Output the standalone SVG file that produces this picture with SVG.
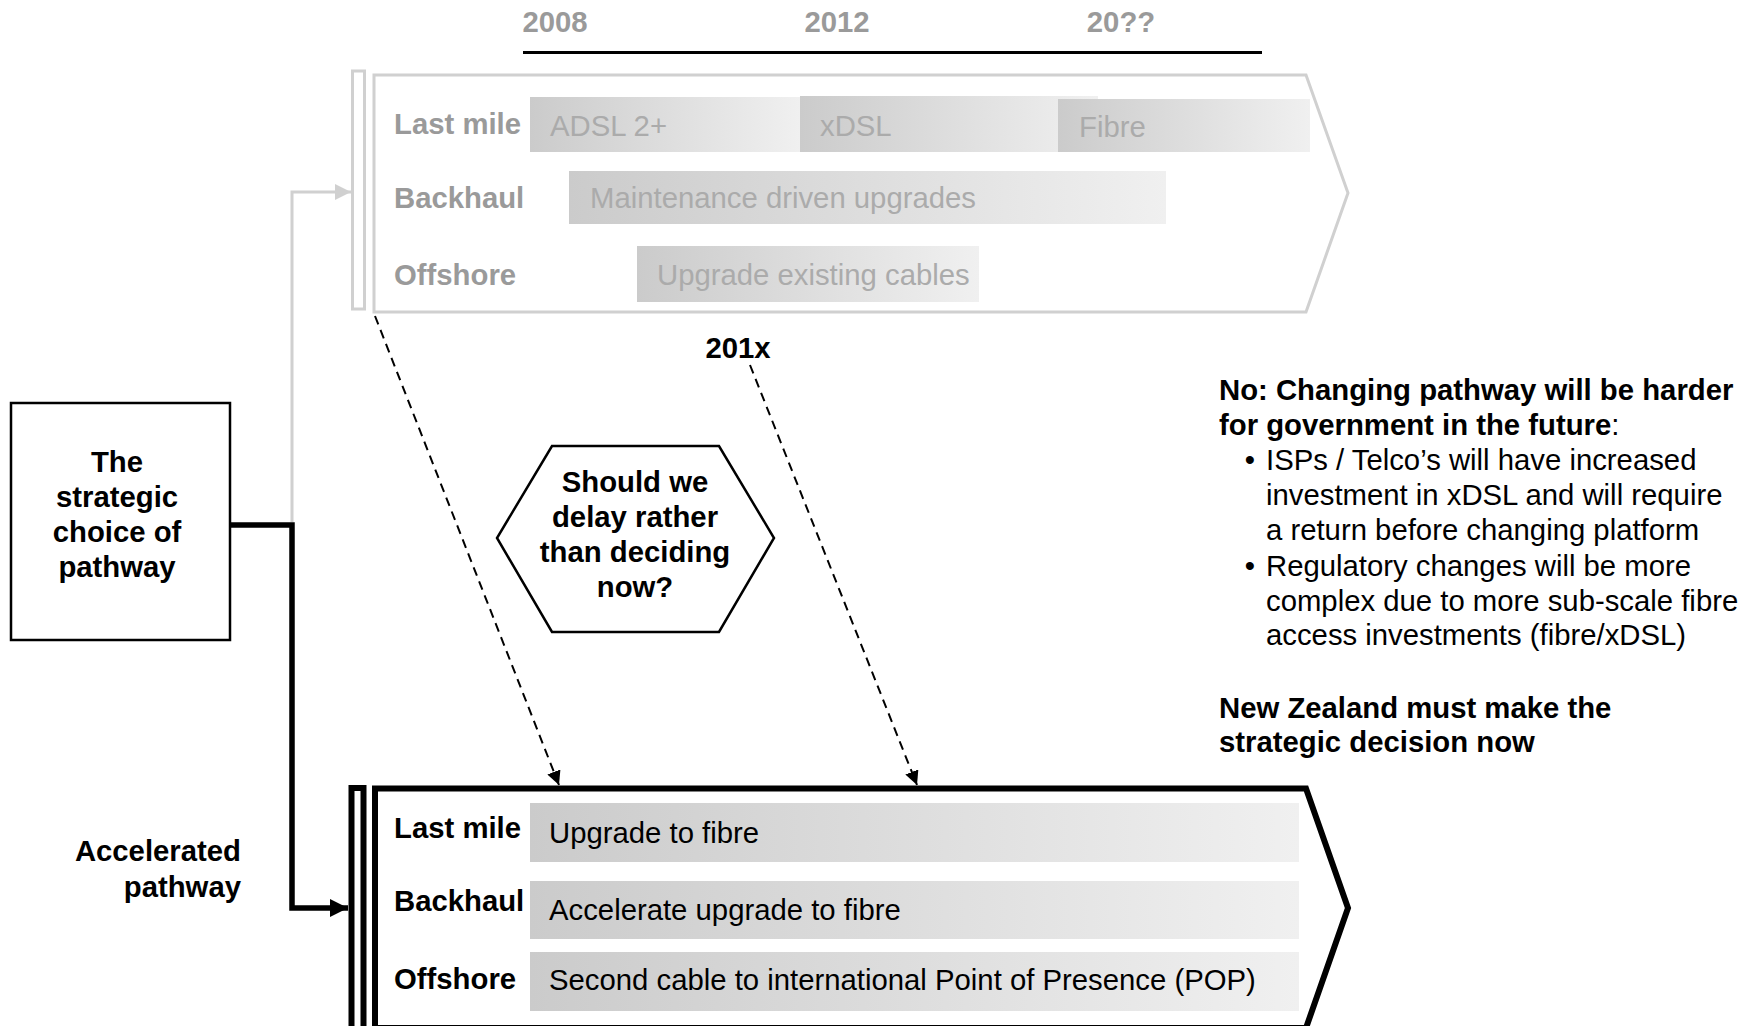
<svg xmlns="http://www.w3.org/2000/svg" width="1751" height="1026" viewBox="0 0 1751 1026">
<defs>
<style>
text{font-family:"Liberation Sans",Arial,sans-serif;font-size:29.3px}
.b{font-weight:bold}
.g{fill:#9a9a9a}
.lg{fill:#ababab}
.k{fill:#000}
.c{text-anchor:middle}
.r{text-anchor:end}
.bar{fill:url(#gr)}
</style>
<linearGradient id="gr" x1="0" y1="0" x2="1" y2="0">
<stop offset="0" stop-color="#cbcbcb"/>
<stop offset="1" stop-color="#f0f0f0"/>
</linearGradient>
<marker id="ah" markerUnits="userSpaceOnUse" markerWidth="16" markerHeight="16" refX="14" refY="7" orient="auto">
<path d="M0,0 L14,7 L0,14 Z" fill="#000"/>
</marker>
<marker id="ahb" markerUnits="userSpaceOnUse" markerWidth="20" markerHeight="20" refX="18" refY="9" orient="auto">
<path d="M0,0 L18,9 L0,18 Z" fill="#000"/>
</marker>
<marker id="ahg" markerUnits="userSpaceOnUse" markerWidth="18" markerHeight="18" refX="16" refY="8" orient="auto">
<path d="M0,0 L16,8 L0,16 Z" fill="#d0d0d0"/>
</marker>
</defs>
<rect width="1751" height="1026" fill="#fff"/>

<g id="timeline">
<line x1="523" y1="52.5" x2="1262" y2="52.5" stroke="#000" stroke-width="3"/>
<text class="b g c" x="555" y="32">2008</text>
<text class="b g c" x="837" y="32">2012</text>
<text class="b g c" x="1121" y="32">20??</text>
</g>

<g id="current-pathway">
<rect x="352.5" y="71" width="12" height="238" fill="#fff" stroke="#d0d0d0" stroke-width="3"/>
<polygon points="374,75 1306,75 1348,193 1306,312 374,312" fill="#fff" stroke="#d0d0d0" stroke-width="3"/>
<rect class="bar" x="530" y="97" width="270" height="55"/>
<rect class="bar" x="800" y="96" width="298" height="56"/>
<rect class="bar" x="1058" y="99" width="252" height="53"/>
<rect class="bar" x="569" y="171" width="597" height="53"/>
<rect class="bar" x="637" y="246" width="342" height="56"/>
<text class="b g" x="394" y="134">Last mile</text>
<text class="b g" x="394" y="208">Backhaul</text>
<text class="b g" x="394" y="285">Offshore</text>
<text class="lg" x="550" y="136">ADSL 2+</text>
<text class="lg" x="820" y="136">xDSL</text>
<text class="lg" x="1079" y="137">Fibre</text>
<text class="lg" x="590" y="208">Maintenance driven upgrades</text>
<text class="lg" x="657" y="285">Upgrade existing cables</text>
</g>

<g id="strategic-choice">
<rect x="11" y="403" width="219" height="237" fill="#fff" stroke="#000" stroke-width="2.5"/>
<text class="b k c" x="117" y="472">The</text>
<text class="b k c" x="117" y="507">strategic</text>
<text class="b k c" x="117" y="542">choice of</text>
<text class="b k c" x="117" y="577">pathway</text>
</g>

<g id="delay-question">
<polygon points="552,446 719,446 774,538 719,632 552,632 497,538" fill="#fff" stroke="#000" stroke-width="2.5"/>
<text class="b k c" x="635" y="492">Should we</text>
<text class="b k c" x="635" y="527">delay rather</text>
<text class="b k c" x="635" y="562">than deciding</text>
<text class="b k c" x="635" y="597">now?</text>
</g>

<g id="label-201x">
<text class="b k c" x="738" y="358">201x</text>
</g>

<g id="accelerated-label">
<text class="b k r" x="241" y="861">Accelerated</text>
<text class="b k r" x="241" y="897">pathway</text>
</g>

<g id="accelerated-pathway">
<rect x="351.5" y="788" width="12" height="245" fill="#fff" stroke="#000" stroke-width="6"/>
<polygon points="375,788.5 1306,788.5 1348,908 1306,1028 375,1028" fill="#fff" stroke="#000" stroke-width="6"/>
<rect class="bar" x="530" y="803" width="769" height="59"/>
<rect class="bar" x="530" y="881" width="769" height="58"/>
<rect class="bar" x="530" y="952" width="769" height="59"/>
<text class="b k" x="394" y="838">Last mile</text>
<text class="b k" x="394" y="911">Backhaul</text>
<text class="b k" x="394" y="989">Offshore</text>
<text class="k" x="549" y="843">Upgrade to fibre</text>
<text class="k" x="549" y="920">Accelerate upgrade to fibre</text>
<text class="k" x="549" y="990">Second cable to international Point of Presence (POP)</text>
</g>

<g id="commentary">
<text class="b k" x="1219" y="400">No: Changing pathway will be harder</text>
<text class="k" x="1219" y="435"><tspan class="b">for government in the future</tspan>:</text>
<text class="k c" x="1250" y="470">•</text>
<text class="k" x="1266" y="470">ISPs / Telco’s will have increased</text>
<text class="k" x="1266" y="505">investment in xDSL and will require</text>
<text class="k" x="1266" y="540">a return before changing platform</text>
<text class="k c" x="1250" y="576">•</text>
<text class="k" x="1266" y="576">Regulatory changes will be more</text>
<text class="k" x="1266" y="611">complex due to more sub-scale fibre</text>
<text class="k" x="1266" y="645">access investments (fibre/xDSL)</text>
<text class="b k" x="1219" y="718">New Zealand must make the</text>
<text class="b k" x="1219" y="752">strategic decision now</text>
</g>

<g id="connectors" fill="none">
<polyline points="292,522 292,192 351,192" stroke="#d0d0d0" stroke-width="3" marker-end="url(#ahg)"/>
<polyline points="231,525 292,525 292,908 348,908" stroke="#000" stroke-width="5.5" stroke-linejoin="miter" marker-end="url(#ahb)"/>
<line x1="375" y1="316" x2="559" y2="785" stroke="#000" stroke-width="2" stroke-dasharray="9 6" marker-end="url(#ah)"/>
<line x1="750" y1="365" x2="917" y2="785" stroke="#000" stroke-width="2" stroke-dasharray="9 6" marker-end="url(#ah)"/>
</g>
</svg>
